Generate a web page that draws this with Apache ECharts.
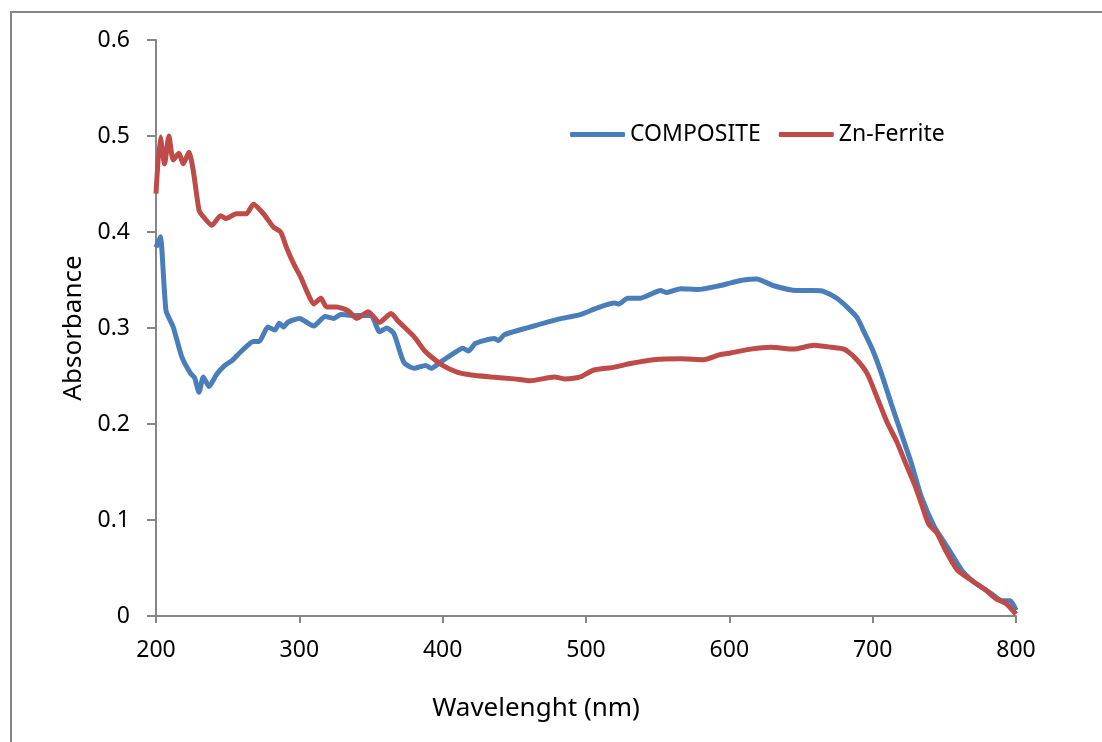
<!DOCTYPE html>
<html>
<head>
<meta charset="utf-8">
<script src="https://cdn.jsdelivr.net/npm/echarts@6/dist/echarts.min.js"></script>
<style>
  html, body { margin: 0; padding: 0; background: #fff; }
  #main { width: 1102px; height: 742px; }
</style>
</head>
<body>
<div id="main"></div>
<script>
// wavelength (nm) / absorbance
var compositeX = [200, 203, 207, 212, 218, 224, 227, 230, 233, 237, 242, 248, 253, 259, 268, 272, 278, 283, 286, 289,
    292, 300, 310, 318, 324, 329, 338, 350, 356, 361, 366, 373, 380, 388, 392, 398, 406, 414, 418, 423,
    436, 439, 443, 461, 480, 496, 508, 520, 523, 529, 538, 552, 556, 566, 578, 593, 601, 610, 619, 631,
    647, 659, 666, 675, 682, 689, 694, 700, 706, 713, 720, 727, 734, 743, 752, 762, 771, 783, 790, 796, 800];
var compositeY = [0.384, 0.395, 0.318, 0.301, 0.270, 0.253, 0.248, 0.233, 0.249, 0.239, 0.251, 0.261, 0.266, 0.275, 0.286, 0.286, 0.301, 0.298, 0.305, 0.301,
    0.306, 0.310, 0.302, 0.312, 0.310, 0.314, 0.313, 0.313, 0.296, 0.300, 0.294, 0.264, 0.258, 0.261, 0.258, 0.264, 0.272, 0.279, 0.276, 0.284,
    0.289, 0.287, 0.293, 0.301, 0.309, 0.314, 0.321, 0.326, 0.325, 0.331, 0.331, 0.339, 0.337, 0.341, 0.340, 0.344, 0.347, 0.350, 0.351, 0.344,
    0.339, 0.339, 0.338, 0.331, 0.322, 0.311, 0.296, 0.277, 0.253, 0.221, 0.190, 0.159, 0.124, 0.093, 0.072, 0.048, 0.035, 0.023, 0.016, 0.016, 0.006];

var ferriteX = [200, 203, 206, 209, 212, 216, 219, 223, 226, 230, 233, 239, 245, 249, 256, 263, 268, 275, 282, 287,
    291, 296, 301, 305, 310, 315, 319, 326, 334, 340, 348, 356, 364, 369, 380, 387, 392, 400, 410, 420,
    434, 450, 461, 478, 485, 496, 505, 519, 531, 547, 566, 582, 593, 601, 615, 629, 645, 659, 671, 680,
    687, 696, 703, 710, 717, 723, 729, 734, 739, 745, 751, 759, 769, 778, 786, 793, 800];
var ferriteY = [0.440, 0.499, 0.471, 0.500, 0.475, 0.482, 0.471, 0.483, 0.464, 0.423, 0.416, 0.407, 0.417, 0.414, 0.419, 0.419, 0.429, 0.419, 0.405, 0.400,
    0.384, 0.367, 0.353, 0.339, 0.325, 0.331, 0.322, 0.322, 0.318, 0.310, 0.317, 0.306, 0.315, 0.307, 0.291, 0.277, 0.270, 0.261, 0.254, 0.251,
    0.249, 0.247, 0.245, 0.249, 0.247, 0.249, 0.256, 0.259, 0.263, 0.267, 0.268, 0.267, 0.272, 0.274, 0.278, 0.280, 0.278, 0.282, 0.280, 0.278,
    0.270, 0.253, 0.228, 0.202, 0.181, 0.159, 0.138, 0.117, 0.096, 0.086, 0.068, 0.048, 0.037, 0.028, 0.018, 0.013, 0.002];

function pairs(xs, ys) {
    return xs.map(function (x, i) { return [x, ys[i]]; });
}

var FONT = '"Noto Sans", "Open Sans", sans-serif';
var axisGray = '#868686';

var myChart = echarts.init(document.getElementById('main'));
var option = {
    animation: false,
    backgroundColor: '#fff',
    textStyle: { fontFamily: FONT },
    graphic: [{
        type: 'rect',
        shape: { x: 11, y: 12, width: 1200, height: 800 },
        style: { fill: 'none', stroke: axisGray, lineWidth: 2 }
    }],
    grid: { left: 156, top: 40, right: 86, bottom: 126, containLabel: false },
    legend: {
        left: 565,
        top: 118,
        icon: 'roundRect',
        itemWidth: 55,
        itemHeight: 5,
        itemGap: 18,
        textStyle: { fontFamily: FONT, fontSize: 23, color: '#000' },
        data: ['COMPOSITE', 'Zn-Ferrite']
    },
    xAxis: {
        type: 'value',
        min: 200,
        max: 800,
        interval: 100,
        name: 'Wavelenght (nm)',
        nameLocation: 'middle',
        nameGap: 80,
        nameTextStyle: { fontFamily: FONT, fontSize: 26, color: '#000', padding: [0, 100, 0, 0] },
        axisLine: { lineStyle: { color: axisGray, width: 2 } },
        axisTick: { length: 7, lineStyle: { color: axisGray, width: 2 } },
        axisLabel: { fontFamily: FONT, fontSize: 23, color: '#000', margin: 23 },
        splitLine: { show: false }
    },
    yAxis: {
        type: 'value',
        min: 0,
        max: 0.6,
        interval: 0.1,
        name: 'Absorbance',
        nameLocation: 'middle',
        nameGap: 68,
        nameTextStyle: { fontFamily: FONT, fontSize: 26, color: '#000' },
        axisLine: { show: true, lineStyle: { color: axisGray, width: 2 } },
        axisTick: { show: true, length: 9, lineStyle: { color: axisGray, width: 2 } },
        axisLabel: { fontFamily: FONT, fontSize: 23, color: '#000', margin: 26 },
        splitLine: { show: false }
    },
    series: [
        {
            name: 'COMPOSITE',
            type: 'line',
            symbol: 'none',
            smooth: 0.2,
            color: '#4A7EBB',
            lineStyle: { width: 5, color: '#4A7EBB' },
            data: pairs(compositeX, compositeY)
        },
        {
            name: 'Zn-Ferrite',
            type: 'line',
            symbol: 'none',
            smooth: 0.2,
            color: '#BE4B48',
            lineStyle: { width: 5, color: '#BE4B48' },
            data: pairs(ferriteX, ferriteY)
        }
    ]
};
myChart.setOption(option);
</script>
</body>
</html>
